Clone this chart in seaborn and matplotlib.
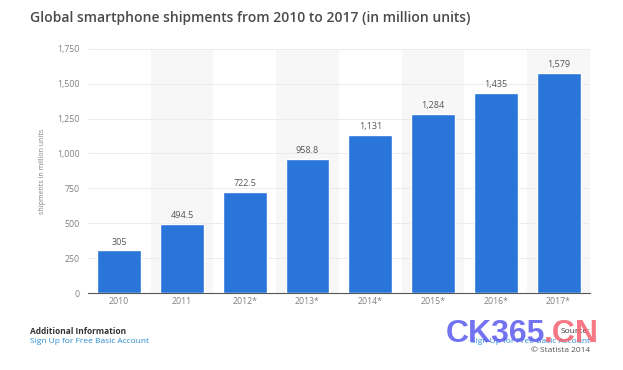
import matplotlib
matplotlib.use("Agg")
import matplotlib.pyplot as plt
import seaborn as sns
import pandas as pd

# data
years = ["2010", "2011", "2012*", "2013*", "2014*", "2015*", "2016*", "2017*"]
shipments = [305, 494.5, 722.5, 958.8, 1131, 1284, 1435, 1579]
value_labels = ["305", "494.5", "722.5", "958.8", "1,131", "1,284", "1,435", "1,579"]
yticks = [0, 250, 500, 750, 1000, 1250, 1500, 1750]

df = pd.DataFrame({"year": years, "shipments": shipments})

sns.set_style("white")
plt.rcParams["font.family"] = ["Open Sans", "DejaVu Sans"]

fig = plt.figure(figsize=(6.23, 3.70), dpi=100)
ax = fig.add_axes([0.141, 0.208, 0.806, 0.66])

# alternating light columns behind the bars
for i in range(len(years)):
    if i % 2 == 1:
        ax.axvspan(i - 0.5, i + 0.5, color="#f7f7f7", zorder=0, lw=0)

sns.barplot(data=df, x="year", y="shipments", color="#2a75d9", saturation=1,
            width=0.7, ax=ax, zorder=3)

for i, lab in enumerate(value_labels):
    ax.text(i, shipments[i] + 28, lab, ha="center", va="bottom",
            fontsize=6.5, color="#555555", zorder=4)

ax.set_xlim(-0.5, len(years) - 0.5)
ax.set_ylim(0, 1750)
ax.set_yticks(yticks)
ax.set_yticklabels([f"{v:,}" for v in yticks])
ax.yaxis.grid(True, color="#ebebeb", lw=0.7, zorder=1)
ax.set_axisbelow(True)
ax.tick_params(axis="both", length=0, labelsize=6.3, labelcolor="#808080")
ax.tick_params(axis="y", pad=6)
ax.tick_params(axis="x", pad=3)
ax.set_xlabel("")
ax.set_ylabel("shipments in million units", fontsize=5, color="#808080", labelpad=8)

for s in ["top", "right", "left"]:
    ax.spines[s].set_visible(False)
ax.spines["bottom"].set_color("#555555")
ax.spines["bottom"].set_linewidth(0.8)

fig.text(0.048, 0.951, "Global smartphone shipments from 2010 to 2017 (in million units)",
         fontsize=10, fontweight="semibold", color="#4a4a4a", va="center", ha="left")

# footer
fig.text(0.048, 0.105, "Additional Information", fontsize=6, fontweight="bold",
         color="#333333", va="center")
fig.text(0.048, 0.078, "Sign Up for Free Basic Account", fontsize=6,
         color="#2a8bd0", va="center")
fig.text(0.947, 0.105, "Source:", fontsize=6, color="#333333", va="center", ha="right")
fig.text(0.947, 0.078, "Sign Up for Free Basic Account", fontsize=6,
         color="#2a8bd0", va="center", ha="right")
fig.text(0.947, 0.053, "\u00a9 Statista 2014", fontsize=6, color="#555555",
         va="center", ha="right")

# watermark over the footer, as in the source image
fig.text(0.716, 0.097, "CK365", fontsize=23, fontweight="bold", color="#5b5bf0",
         family="Liberation Sans", alpha=0.85, va="center", ha="left")
fig.text(0.873, 0.097, ".CN", fontsize=23, fontweight="bold", color="#f4606e",
         family="Liberation Sans", alpha=0.85, va="center", ha="left")

fig.savefig("out.png", dpi=100, facecolor="white")
